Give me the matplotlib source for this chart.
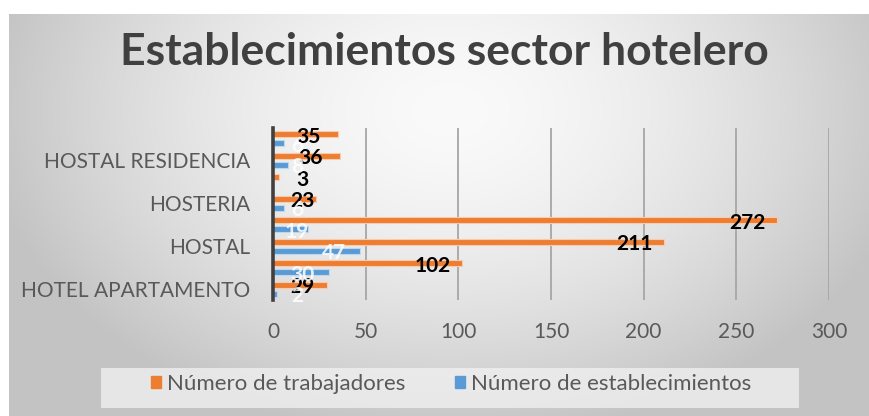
#!/usr/bin/env python3
"""Establecimientos sector hotelero: horizontal bar chart, Excel style."""
import numpy as np
import matplotlib
matplotlib.use("Agg")
import matplotlib.pyplot as plt
from matplotlib.patches import Rectangle

W, H = 869, 416
DPI = 100

TITLE = "Establecimientos sector hotelero"
# categories from bottom to top; only every other one has a visible tick label
TICK_LABELS = ["HOTEL APARTAMENTO", "", "HOSTAL", "", "HOSTERIA", "", "HOSTAL RESIDENCIA", ""]
TRABAJADORES = [29, 102, 211, 272, 23, 3, 36, 35]
ESTABLECIMIENTOS = [2, 30, 47, 19, 6, 0, 8, 6]
SERIES_NAMES = ["Número de trabajadores", "Número de establecimientos"]
X_TICKS = [0, 50, 100, 150, 200, 250, 300]

ORANGE = "#ED7D31"
BLUE = "#5B9BD5"
TEXT_GREY = "#595959"

FONT = ["Lato", "DejaVu Sans"]


def px(x, y):
    """pixel (from top-left) -> figure fraction"""
    return x / W, 1 - y / H


def background(fig):
    bg = fig.add_axes([0, 0, 1, 1], zorder=-10)
    yy, xx = np.mgrid[0:H, 0:W]
    d = np.sqrt(((xx - 450) / 470.0) ** 2 + ((yy - 110) / 330.0) ** 2)
    g = 250 - 55 * np.clip(d, 0, 1) ** 1.6
    img = np.repeat((g / 255.0)[:, :, None], 3, axis=2)
    img[:14, :, :] = 1.0
    img[:, :9, :] = 1.0
    bg.imshow(img, aspect="auto", extent=[0, W, H, 0], interpolation="bilinear")
    bg.set_xlim(0, W)
    bg.set_ylim(H, 0)
    bg.axis("off")


def main():
    fig = plt.figure(figsize=(W / DPI, H / DPI), dpi=DPI)
    background(fig)

    x0, y1 = px(273, 300)
    x1, y0 = px(829, 128)
    ax = fig.add_axes([x0, y1, x1 - x0, y0 - y1])
    ax.patch.set_alpha(0)

    y = np.arange(len(TRABAJADORES))
    h = 0.28
    ax.barh(y + 0.2, TRABAJADORES, height=h, color=ORANGE, edgecolor="#F8CBAD", linewidth=0.8, zorder=3)
    ax.barh(y - 0.2, ESTABLECIMIENTOS, height=h, color=BLUE, edgecolor="#BDD7EE", linewidth=0.8, zorder=3)

    for i, v in enumerate(TRABAJADORES):
        ax.text(max(v - 16, 16), i + 0.1, str(v), ha="center", va="center", fontsize=15,
                fontweight="bold", family=FONT, color="black", zorder=5)
    for i, v in enumerate(ESTABLECIMIENTOS):
        if v == 0:
            continue
        ax.text(max(v - 14, 13), i - 0.32, str(v), ha="center", va="center", fontsize=15,
                fontweight="bold", family=FONT, color="white", alpha=0.85, zorder=5)

    ax.set_xlim(0, 300)
    ax.set_ylim(-0.5, len(TRABAJADORES) - 0.5)
    ax.set_xticks(X_TICKS)
    ax.set_xticklabels([str(t) for t in X_TICKS], fontsize=15, color=TEXT_GREY, family=FONT)
    ax.set_yticks(y)
    ax.set_yticklabels(TICK_LABELS, fontsize=15, color=TEXT_GREY, family=FONT)
    ax.tick_params(axis="x", length=0, pad=16)
    ax.tick_params(axis="y", length=0, pad=16.5)
    ax.xaxis.grid(True, color="#A6A6A6", linewidth=1.3, zorder=0)
    ax.set_axisbelow(True)
    for s in ["top", "right", "bottom"]:
        ax.spines[s].set_visible(False)
    ax.spines["left"].set_color("#404040")
    ax.spines["left"].set_linewidth(2.6)
    ax.spines["left"].set_zorder(6)

    tx, ty = px(444, 52)
    fig.text(tx, ty, TITLE, ha="center", va="center", fontsize=32, fontweight="bold",
             family=FONT, color="#404040")

    lx, ly = px(101, 408)
    lx2, ly2 = px(799, 368)
    fig.patches.append(Rectangle((lx, ly), lx2 - lx, ly2 - ly, transform=fig.transFigure,
                                 facecolor="#F2F2F2", edgecolor="none", alpha=0.75, zorder=1))
    handles = [Rectangle((0, 0), 1, 1, color=ORANGE), Rectangle((0, 0), 1, 1, color=BLUE)]
    cx, cy = px(451, 384)
    leg = fig.legend(handles, SERIES_NAMES, loc="center", bbox_to_anchor=(cx, cy), ncol=2,
                     frameon=False, handlelength=0.45, handleheight=0.45, handletextpad=0.3,
                     columnspacing=2.2, prop={"family": FONT, "size": 16})
    for t in leg.get_texts():
        t.set_color(TEXT_GREY)

    fig.savefig("out.png", dpi=DPI)
    plt.close(fig)


if __name__ == "__main__":
    main()
